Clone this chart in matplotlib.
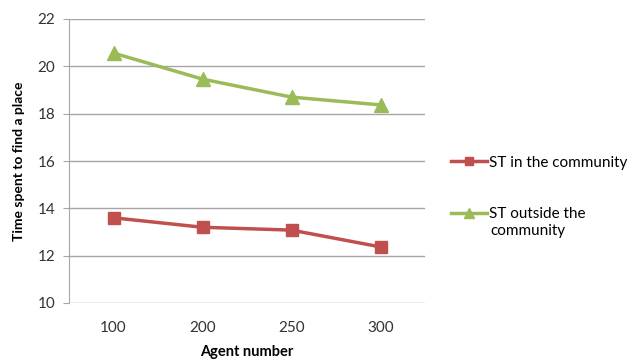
import matplotlib
matplotlib.use("Agg")
import matplotlib.pyplot as plt

categories = ["100", "200", "250", "300"]
st_in = [13.6, 13.2, 13.08, 12.37]
st_out = [20.56, 19.46, 18.7, 18.37]
yticks = [10, 12, 14, 16, 18, 20, 22]

plt.rcParams['font.family'] = ['Lato', 'DejaVu Sans']

fig = plt.figure(figsize=(6.37, 3.6), dpi=100)
ax = fig.add_axes([69/637, 57/360, 356/637, 284/360])

x = list(range(len(categories)))
l1, = ax.plot(x, st_in, color="#C0504D", lw=2.5, marker="s", ms=9, label="ST in the community")
l2, = ax.plot(x, st_out, color="#9BBB59", lw=2.5, marker="^", ms=10, label="ST outside the")

ax.set_xlim(-0.5, len(categories) - 0.5)
ax.set_ylim(10, 22)
ax.set_yticks(yticks)
ax.set_xticks(x)
ax.set_xticklabels(categories)
ax.yaxis.grid(True, color="#A6A6A6", lw=1)
ax.set_axisbelow(True)
for s in ["top", "right"]:
    ax.spines[s].set_visible(False)
ax.spines["bottom"].set_visible(False)
ax.spines["left"].set_color("#A6A6A6")
ax.tick_params(axis="y", length=4, color="#A6A6A6", labelsize=11, labelcolor="#333333", pad=6)
ax.tick_params(axis="x", length=0, labelsize=11, labelcolor="#333333", pad=13)
ax.set_ylabel("Time spent to find a place", fontsize=10, fontweight="bold", labelpad=9)
ax.set_xlabel("Agent number", fontsize=10.5, fontweight="bold", labelpad=7)

leg = fig.legend(handles=[l1, l2], loc="upper left", bbox_to_anchor=(437/637, 1 - 142/360),
                 frameon=False, fontsize=11, handlelength=2.4, handletextpad=0.1,
                 labelspacing=2.45, markerscale=0.7)
fig.text(490/637, 1 - 231/360, "community", fontsize=11, va="center", ha="left")

fig.savefig("out.png", dpi=100)
